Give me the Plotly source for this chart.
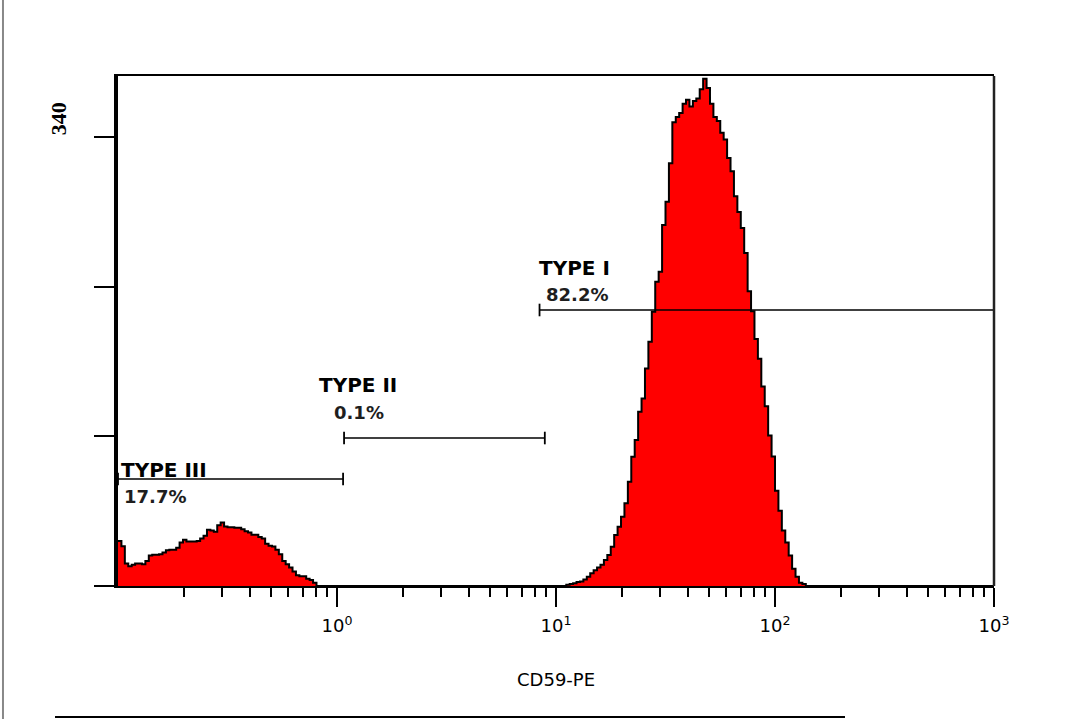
import numpy as np
import plotly.graph_objects as go

# ---------------- data ----------------
# histogram: 256 channels over 4 log decades (0.1 .. 1000), 64 channels / decade
log_min, log_max, channels_per_decade = -1, 3, 64
n_channels = (log_max - log_min) * channels_per_decade

# TYPE III population (starts at channel 0)
left_peak_start = 0
left_peak_counts = [34, 30, 17, 15, 16, 17, 17, 16.5, 19, 23, 23.6, 23.6, 24, 25.4, 27,
                    27.4, 27.4, 29, 33, 35, 33.7, 33.7, 33.7, 34, 36, 38, 42.5, 42, 41,
                    46, 48, 45, 44.5, 44.5, 44, 44, 43, 41.5, 40.5, 38.7, 38.7, 37, 36,
                    32, 30.5, 29.9, 27.5, 24, 19, 16.5, 14, 11, 8.2, 7.3, 7.3, 5.5, 4.5,
                    2.5]

# TYPE I population
right_peak_start = 131
right_peak_counts = [1, 1.5, 2, 3, 3.5, 5, 7, 9.6, 12, 14, 16, 19.7, 23.5, 29.7, 38.6,
                     44.9, 52.4, 62.6, 78.9, 97.8, 110.5, 131.9, 142, 164.7, 184.9, 207.6,
                     230.3, 237.8, 273.2, 290.8, 320, 351, 355, 358, 365, 368, 363, 367,
                     369, 376, 384, 377, 365, 355, 352, 343, 338, 324, 314, 295, 283, 271,
                     252, 223, 208, 187, 172, 151, 136, 114, 98, 72, 57, 42, 33, 23, 13,
                     7, 2.5, 1.5]

# markers (gates)
gate_names = ["TYPE III", "TYPE II", "TYPE I"]
gate_pct = ["17.7%", "0.1%", "82.2%"]
gate_lo = [0.1, 1.077, 8.41]
gate_hi = [1.066, 8.89, 1000]
gate_level = [81.0, 112.0, 208.9]

# axes
y_max_label = 340
y_range_max = 386
x_tick_vals = [1, 10, 100, 1000]
x_tick_text = ["10<sup>0</sup>", "10<sup>1</sup>", "10<sup>2</sup>", "10<sup>3</sup>"]
x_title = "CD59-PE"

# ---------------- build ----------------
counts = np.zeros(n_channels)
counts[left_peak_start:left_peak_start + len(left_peak_counts)] = left_peak_counts
counts[right_peak_start:right_peak_start + len(right_peak_counts)] = right_peak_counts
edges = 10 ** (log_min + np.arange(n_channels + 1) / channels_per_decade)
hist_y = np.append(counts, counts[-1])

fig = go.Figure()
fig.add_trace(go.Scatter(
    x=edges, y=hist_y, mode="lines", line=dict(shape="hv", color="black", width=2),
    fill="tozeroy", fillcolor="#ff0000", hoverinfo="skip", showlegend=False))

for lo, hi, lev in zip(gate_lo, gate_hi, gate_level):
    fig.add_trace(go.Scatter(
        x=[lo, hi], y=[lev, lev], mode="lines+markers",
        line=dict(color="black", width=1.5),
        marker=dict(symbol="line-ns", size=9, line=dict(color="black", width=1.8)),
        cliponaxis=False, showlegend=False, hoverinfo="skip"))

# label offsets (pixels) relative to gate start: (name dx, name dy, pct dx, pct dy)
label_offsets = [(1, 9, 4, -18), (-27, 53, -12, 26), (-3, 42, 4, 15)]
annotations = []
for name, pct, lo, lev, off in zip(gate_names, gate_pct, gate_lo, gate_level, label_offsets):
    annotations.append(dict(x=np.log10(lo), y=lev, xref="x", yref="y", text=name,
                            showarrow=False, xanchor="left", yanchor="middle",
                            xshift=off[0], yshift=off[1],
                            font=dict(family="DejaVu Sans", size=20, color="black",
                                      weight="bold")))
    annotations.append(dict(x=np.log10(lo), y=lev, xref="x", yref="y", text=pct,
                            showarrow=False, xanchor="left", yanchor="middle",
                            xshift=off[2], yshift=off[3],
                            font=dict(family="DejaVu Sans", size=18, color="#1e1e1e",
                                      weight="bold")))

annotations.append(dict(x=-0.0685, y=y_max_label, xref="paper", yref="y",
                        text=str(y_max_label), textangle=-90, showarrow=False,
                        xanchor="center", yanchor="bottom",
                        font=dict(family="Liberation Serif", size=22, color="black",
                                  weight="bold")))
annotations.append(dict(x=0.5, y=-0.184, xref="paper", yref="paper", text=x_title,
                        showarrow=False, xanchor="center", yanchor="middle",
                        font=dict(family="DejaVu Sans", size=18, color="black")))

minor_vals = [m * 10 ** d for d in range(log_min, log_max) for m in range(2, 10)]

fig.update_layout(
    width=1078, height=719, autosize=False,
    margin=dict(l=118, r=84, t=76, b=133, pad=0),
    paper_bgcolor="white", plot_bgcolor="white",
    showlegend=False,
    annotations=annotations,
    xaxis=dict(type="log", range=[log_min, log_max], showgrid=False, zeroline=False,
               showline=True, linecolor="black", linewidth=1.5, mirror=True,
               tickmode="array", tickvals=x_tick_vals, ticktext=x_tick_text,
               ticks="outside", ticklen=19, tickwidth=2, tickcolor="black",
               ticklabelstandoff=4,
               tickfont=dict(family="DejaVu Sans", size=18, color="black"),
               minor=dict(tickmode="array", tickvals=minor_vals, ticks="outside",
                          ticklen=9, tickwidth=1.5, tickcolor="black", showgrid=False)),
    yaxis=dict(range=[0, y_range_max], showgrid=False, zeroline=False,
               showline=True, linecolor="black", linewidth=3.5, mirror=False,
               tickmode="array",
               tickvals=[y_max_label * k / 3 for k in range(4)],
               showticklabels=False,
               ticks="outside", ticklen=20, tickwidth=1.5, tickcolor="black"),
    shapes=[
        dict(type="line", xref="paper", yref="paper", x0=1, x1=1, y0=0, y1=1,
             line=dict(color="#222222", width=2.5)),
        dict(type="line", xref="paper", yref="paper", x0=-0.1313, x1=-0.1313,
             y0=1.149, y1=-0.2608, line=dict(color="#888888", width=2)),
        dict(type="line", xref="paper", yref="paper", x0=-0.0719, x1=0.8299,
             y0=-0.2569, y1=-0.2569, line=dict(color="black", width=2)),
    ],
)

fig.write_html("out.html", config={"displayModeBar": False},
               post_script="document.body.style.margin='0';document.body.style.padding='0';")
